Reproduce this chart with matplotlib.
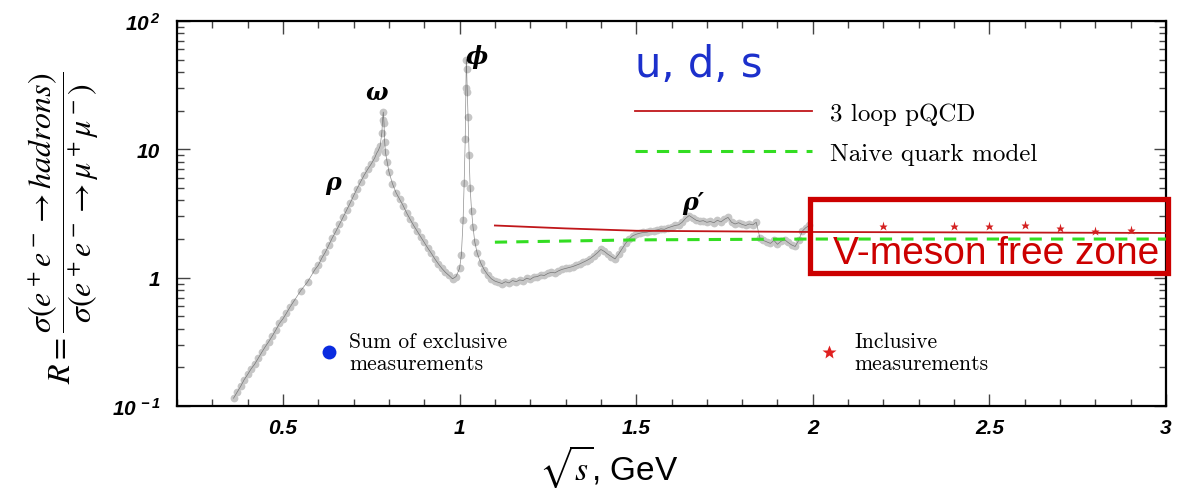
import matplotlib
matplotlib.use("Agg")
import matplotlib.pyplot as plt
from matplotlib.lines import Line2D
from matplotlib.patches import Rectangle
from matplotlib.ticker import FixedLocator, LogLocator, NullFormatter, FixedFormatter, MultipleLocator

plt.rcParams['mathtext.fontset'] = 'custom'
plt.rcParams['mathtext.rm'] = 'Liberation Sans:italic:bold'
plt.rcParams['mathtext.it'] = 'Liberation Sans:italic:bold'
plt.rcParams['mathtext.bf'] = 'Liberation Sans:italic:bold'

# ---------------- data ----------------
sqrt_s = [0.36, 0.37, 0.38, 0.39, 0.40, 0.41, 0.42, 0.43, 0.44, 0.45, 0.46, 0.47, 0.48, 0.49,
          0.50, 0.51, 0.52, 0.53, 0.55, 0.57, 0.59, 0.60, 0.61, 0.62, 0.63, 0.64, 0.65, 0.66,
          0.67, 0.68, 0.69, 0.70, 0.71, 0.72, 0.73, 0.74, 0.75, 0.76, 0.765, 0.77, 0.775, 0.78,
          0.782, 0.784, 0.786, 0.788, 0.79, 0.795, 0.80, 0.81, 0.82, 0.83, 0.84, 0.85, 0.86,
          0.87, 0.88, 0.89, 0.90, 0.91, 0.92, 0.93, 0.94, 0.95, 0.96, 0.97, 0.98, 0.99, 1.00,
          1.005, 1.010, 1.013, 1.016, 1.018, 1.019, 1.020, 1.022, 1.024, 1.027, 1.030, 1.034,
          1.038, 1.043, 1.050, 1.060, 1.070, 1.080, 1.09, 1.10, 1.11, 1.12, 1.13, 1.14, 1.15,
          1.16, 1.17, 1.18, 1.19, 1.20, 1.21, 1.22, 1.23, 1.24, 1.25, 1.26, 1.27, 1.28, 1.29,
          1.30, 1.31, 1.32, 1.33, 1.34, 1.35, 1.36, 1.37, 1.38, 1.39, 1.40, 1.41, 1.42, 1.43,
          1.44, 1.45, 1.46, 1.47, 1.48, 1.49, 1.50, 1.51, 1.52, 1.53, 1.54, 1.55, 1.56, 1.57,
          1.58, 1.59, 1.60, 1.61, 1.62, 1.63, 1.64, 1.65, 1.66, 1.67, 1.68, 1.69, 1.70, 1.71,
          1.72, 1.73, 1.74, 1.75, 1.76, 1.77, 1.78, 1.79, 1.80, 1.81, 1.82, 1.83, 1.84, 1.85,
          1.86, 1.87, 1.88, 1.89, 1.90, 1.91, 1.92, 1.93, 1.94, 1.95, 1.96, 1.97, 1.98, 1.99]
R_data = [0.115, 0.128, 0.142, 0.160, 0.176, 0.195, 0.212, 0.236, 0.262, 0.290, 0.318, 0.352,
          0.392, 0.440, 0.478, 0.530, 0.590, 0.650, 0.790, 0.930, 1.15, 1.25, 1.42, 1.58, 1.80,
          2.05, 2.30, 2.60, 2.95, 3.35, 3.80, 4.35, 4.95, 5.60, 6.30, 7.00, 7.70, 8.60, 9.30,
          9.80, 10.6, 13.5, 17.0, 19.5, 16.0, 11.5, 9.5, 8.0, 6.7, 5.4, 4.6, 4.1, 3.65, 3.20,
          2.85, 2.55, 2.30, 2.08, 1.88, 1.70, 1.55, 1.40, 1.28, 1.18, 1.10, 1.04, 0.98, 1.02,
          1.18, 1.50, 2.8, 5.5, 12.0, 30.0, 50.0, 42.0, 28.0, 18.0, 9.0, 5.0, 3.3, 2.5, 1.9,
          1.55, 1.30, 1.15, 1.05, 0.98, 0.94, 0.92, 0.90, 0.93, 0.91, 0.95, 0.93, 0.96, 0.95,
          0.99, 0.97, 1.01, 1.02, 1.05, 1.04, 1.08, 1.10, 1.09, 1.13, 1.16, 1.18, 1.20, 1.22,
          1.25, 1.28, 1.32, 1.36, 1.41, 1.48, 1.56, 1.66, 1.60, 1.52, 1.46, 1.40, 1.52, 1.68,
          1.85, 2.00, 2.12, 2.18, 2.22, 2.25, 2.26, 2.30, 2.33, 2.36, 2.40, 2.38, 2.45, 2.50,
          2.55, 2.58, 2.70, 2.90, 3.05, 2.92, 2.80, 2.75, 2.78, 2.70, 2.74, 2.68, 2.80, 2.72,
          2.85, 2.95, 2.70, 2.62, 2.68, 2.60, 2.55, 2.62, 2.58, 2.70, 2.05, 1.95, 1.90, 1.85,
          1.95, 1.82, 1.92, 1.98, 1.88, 1.80, 1.75, 1.95, 2.30, 2.45, 2.55]

pqcd_x = [1.1, 1.3, 1.5, 2.0, 2.5, 3.0]
pqcd_R = [2.55, 2.42, 2.32, 2.27, 2.25, 2.23]
naive_x = [1.1, 1.5, 2.0, 2.5, 3.0]
naive_R = [1.89, 1.97, 2.0, 2.0, 2.0]

incl_x = [2.2, 2.4, 2.5, 2.6, 2.7, 2.8, 2.9]
incl_R = [2.54, 2.54, 2.54, 2.58, 2.45, 2.32, 2.36]

res_labels = ['ρ', 'ω', 'ϕ', 'ρ′']
res_x = [0.642, 0.764, 1.05, 1.662]
res_R = [5.6, 28.0, 53.5, 3.9]

y_ticks = [0.1, 1, 10, 100]
y_ticklabels = [r'$10^{\,-1}$', '1', '10', r'$10^{\,2}$']
x_ticks = [0.5, 1.0, 1.5, 2.0, 2.5, 3.0]
x_ticklabels = ['0.5', '1', '1.5', '2', '2.5', '3']

# ---------------- figure ----------------
fig = plt.figure(figsize=(11.78, 4.89), dpi=100)
ax = fig.add_axes([177/1178, 1-407/489, (1166-177)/1178, (407-22)/489])
ax.set_yscale('log')
ax.set_xlim(0.2, 3.0)
ax.set_ylim(0.1, 100)

ax.plot(sqrt_s, R_data, ls='none', marker='o', ms=5.6, color='#c6c6c6', mec='none', zorder=2)
ax.plot(sqrt_s, R_data, ls='-', lw=0.5, color='#333333', alpha=0.55, zorder=3)

l1, = ax.plot(pqcd_x, pqcd_R, color='#c0161a', lw=1.3, zorder=4, label='3 loop pQCD')
l2, = ax.plot(naive_x, naive_R, color='#33dd22', lw=2.2, ls=(0, (4, 3)), zorder=4,
              label='Naive quark model')
ax.plot(incl_x, incl_R, ls='none', marker='*', ms=6.5, color='#d42020', mec='none', zorder=5)

for lab, xx, yy in zip(res_labels, res_x, res_R):
    ax.text(xx, yy, lab, ha='center', va='center', fontsize=17,
            family='DejaVu Serif', style='italic', weight='bold')

# axes styling
for sp in ax.spines.values():
    sp.set_linewidth(1.6)
ax.xaxis.set_major_locator(FixedLocator(x_ticks))
ax.xaxis.set_major_formatter(FixedFormatter(x_ticklabels))
ax.xaxis.set_minor_locator(MultipleLocator(0.1))
ax.yaxis.set_major_locator(FixedLocator(y_ticks))
ax.yaxis.set_major_formatter(FixedFormatter(y_ticklabels))
ax.yaxis.set_minor_locator(LogLocator(base=10, subs=[2, 3, 4, 5, 6, 7, 8, 9]))
ax.yaxis.set_minor_formatter(NullFormatter())
ax.tick_params(which='both', direction='in', top=True, right=True, color='#444444')
ax.tick_params(which='major', length=9, width=1.0)
ax.tick_params(which='minor', length=5, width=1.0)
ax.tick_params(axis='x', which='major', pad=9)
ax.tick_params(axis='y', which='major', pad=12)
for t in ax.get_xticklabels() + ax.get_yticklabels():
    t.set_fontfamily('Liberation Sans')
    t.set_fontstyle('italic')
    t.set_fontweight('bold')
    t.set_fontsize(15)

# legends
leg1 = ax.legend(handles=[l1, l2], loc='upper left', bbox_to_anchor=(0.463, 0.788),
                 frameon=False, handlelength=7.1, handletextpad=0.72, labelspacing=0.68,
                 borderpad=0, borderaxespad=0, prop={'family': 'cmr10', 'size': 18})
ax.add_artist(leg1)
h_excl = Line2D([], [], ls='none', marker='o', ms=10, color='#0a2be0', mec='none')
leg2 = ax.legend(handles=[h_excl], labels=['Sum of exclusive\nmeasurements'],
                 loc='center left', bbox_to_anchor=(0.145, 0.14), frameon=False,
                 handlelength=0.8, handletextpad=0.55, borderpad=0, borderaxespad=0,
                 prop={'family': 'cmr10', 'size': 15.5})
ax.add_artist(leg2)
h_incl = Line2D([], [], ls='none', marker='*', ms=10, color='#e02020', mec='none')
leg3 = ax.legend(handles=[h_incl], labels=['Inclusive\nmeasurements'],
                 loc='center left', bbox_to_anchor=(0.651, 0.14), frameon=False,
                 handlelength=0.8, handletextpad=0.75, borderpad=0, borderaxespad=0,
                 prop={'family': 'cmr10', 'size': 15.5})

# text labels
ax.text(0.463, 0.857, 'u, d, s', transform=ax.transAxes, ha='left', va='baseline',
        fontsize=30, color='#1c30cc', family='DejaVu Sans')
ax.text(0.663, 0.372, 'V-meson free zone', transform=ax.transAxes, ha='left', va='baseline',
        fontsize=28, color='#cc0000', family='Liberation Sans')
ax.add_patch(Rectangle((0.640, 0.345), 0.362, 0.192, transform=ax.transAxes, fill=False,
                       ec='#cc0000', lw=3.8, clip_on=False, zorder=6))

# axis labels
ax.set_xlabel(r'$\sqrt{s}$, GeV', x=0.437, fontsize=24, family='Liberation Sans',
              math_fontfamily='stix', labelpad=4)
fig.text(0.054, 0.535,
         r'$R=\dfrac{\sigma\left(e^+e^-\rightarrow hadrons\right)}{\sigma\left(e^+e^-\rightarrow \mu^+\mu^-\right)}$',
         rotation=90, ha='center', va='center', fontsize=23, math_fontfamily='stix')

fig.savefig('out.png', dpi=100)
